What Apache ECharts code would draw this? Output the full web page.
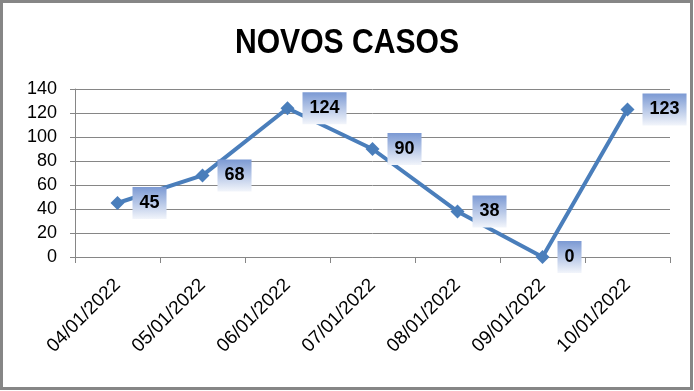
<!DOCTYPE html>
<html><head><meta charset="utf-8">
<script src="https://cdn.jsdelivr.net/npm/echarts@6/dist/echarts.min.js"></script>
<style>html,body{margin:0;padding:0;background:#fff}#c{width:694px;height:391px}</style>
</head><body><div id="c"></div>
<script>
const categories = ['04/01/2022','05/01/2022','06/01/2022','07/01/2022','08/01/2022','09/01/2022','10/01/2022'];
const values = [45, 68, 124, 90, 38, 0, 123];
const yTicks = [0, 20, 40, 60, 80, 100, 120, 140];
const titleText = 'NOVOS CASOS';

const chart = echarts.init(document.getElementById('c'), null, {renderer: 'canvas'});
const fontFam = '"Liberation Sans", Arial, sans-serif';
chart.setOption({
  animation: false,
  backgroundColor: '#fff',
  graphic: [{
    type: 'rect', shape: {x: 1.5, y: 1.5, width: 690, height: 387},
    style: {fill: 'none', stroke: '#868686', lineWidth: 3}, z: 100
  }, {
    type: 'text', x: 347, y: 43, scaleX: 0.86, scaleY: 1,
    style: {
      text: titleText, fill: '#000',
      font: 'bold 35px "Liberation Sans", Arial, sans-serif',
      textAlign: 'center', textVerticalAlign: 'middle'
    }
  }],
  grid: {left: 75, right: 24, top: 89, bottom: 134},
  xAxis: {
    type: 'category', data: categories, boundaryGap: true,
    axisLine: {lineStyle: {color: '#868686', width: 1}},
    axisTick: {show: true, length: 6, lineStyle: {color: '#868686'}},
    axisLabel: {rotate: 45, fontFamily: fontFam, fontSize: 19, color: '#000', margin: 25}
  },
  yAxis: {
    type: 'value', min: yTicks[0], max: yTicks[yTicks.length - 1], interval: 20,
    axisLine: {show: true, lineStyle: {color: '#868686', width: 1}},
    axisTick: {show: true, length: 5, lineStyle: {color: '#868686'}},
    splitLine: {lineStyle: {color: '#868686', width: 1}},
    axisLabel: {fontFamily: fontFam, fontSize: 18, color: '#000', margin: 18}
  },
  series: [{
    type: 'line', data: values,
    symbol: 'diamond', symbolSize: 14,
    lineStyle: {color: '#4a7ebb', width: 4},
    itemStyle: {color: '#4a7ebb'},
    label: {
      show: true, position: 'right', distance: 8,
      fontFamily: fontFam, fontWeight: 'bold', fontSize: 18, lineHeight: 18, color: '#000',
      padding: [7, 7, 7, 7],
      backgroundColor: {
        type: 'linear', x: 0, y: 0, x2: 0, y2: 1,
        colorStops: [{offset: 0, color: '#7b99d3'}, {offset: 1, color: '#f2f5fb'}]
      }
    }
  }]
});
</script></body></html>
